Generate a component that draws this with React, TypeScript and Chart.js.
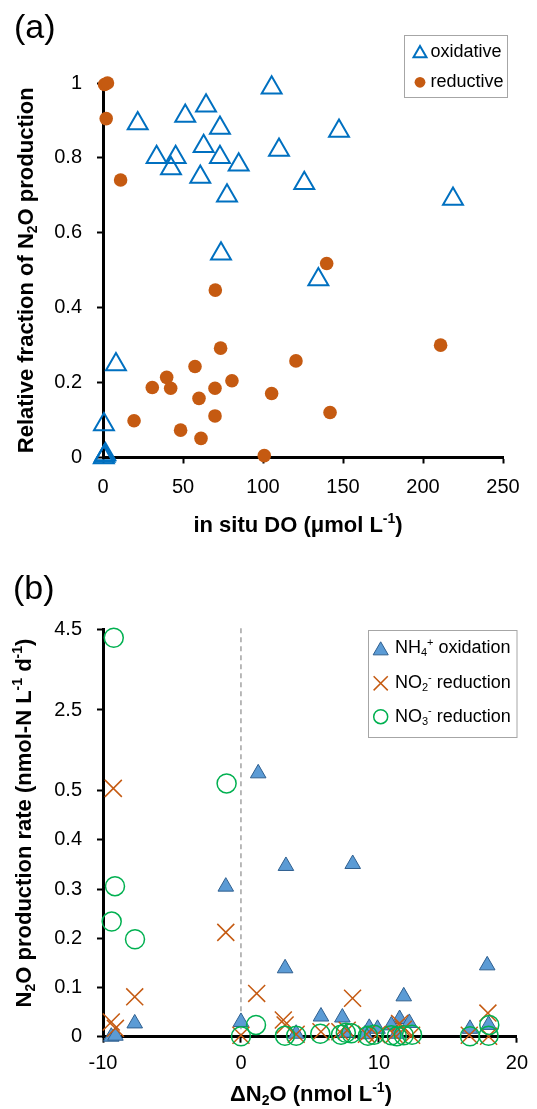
import React, { useEffect, useRef } from 'react';
import { Chart, registerables } from 'chart.js';

Chart.register(...registerables);

const FONT = '"Liberation Sans", Arial, Helvetica, sans-serif';

// ---------- Panel (a) data ----------
const A_X_TICKS = [0, 50, 100, 150, 200, 250];
const A_Y_TICKS = [0, 0.2, 0.4, 0.6, 0.8, 1];
const A_Y_TICK_LABELS = ['0', '0.2', '0.4', '0.6', '0.8', '1'];

const OXIDATIVE_DO = [21.7, 33.5, 45.4, 42.5, 51.4, 64.4, 73.1, 62.9, 73.1, 60.8, 84.8, 77.5, 73.75, 105.4, 147.5, 110, 125.8, 218.75, 134.6, 8.1, 0.6, 0.5, 1.0, 1.5];
const OXIDATIVE_FRACTION = [0.892, 0.802, 0.802, 0.772, 0.912, 0.939, 0.88, 0.831, 0.802, 0.749, 0.782, 0.699, 0.544, 0.987, 0.872, 0.821, 0.732, 0.69, 0.475, 0.248, 0.088, 0, 0.004, 0.008];

const REDUCTIVE_DO = [1.0, 2.8, 2.0, 11, 70.2, 139.8, 211, 73.5, 120.6, 57.5, 39.8, 30.8, 42.3, 80.6, 70, 105.4, 60, 141.9, 70, 19.4, 48.5, 61.25, 100.8];
const REDUCTIVE_FRACTION = [0.996, 1.0, 0.905, 0.741, 0.447, 0.518, 0.3, 0.292, 0.258, 0.243, 0.214, 0.187, 0.185, 0.205, 0.185, 0.171, 0.158, 0.12, 0.111, 0.098, 0.073, 0.051, 0.005];

// ---------- Panel (b) data ----------
const B_X_TICKS = [-10, 0, 10, 20];
const B_Y_TICKS = [0, 0.1, 0.2, 0.3, 0.4, 0.5, 2.5, 4.5];
const B_Y_TICK_LABELS = ['0', '0.1', '0.2', '0.3', '0.4', '0.5', '2.5', '4.5'];

const NH4_DN2O = [-9.4, -9.1, -7.7, -1.1, 0.0, 1.25, 3.26, 8.1, 3.2, 17.85, 11.8, 5.8, 7.35, 11.5, 12.2, 17.95, 16.6, 4.0, 9.3, 9.9, 10.9, 7.6, 11.3, 9.0];
const NH4_RATE = [0, 0.002, 0.027, 0.305, 0.03, 0.93, 0.347, 0.351, 0.139, 0.145, 0.082, 0.041, 0.039, 0.036, 0.028, 0.024, 0.016, 0.006, 0.018, 0.016, 0.023, 0.008, 0.006, 0.005];

const NO2_DN2O = [-9.25, -9.4, -9.1, -7.7, -1.1, 1.14, 0.0, 3.07, 3.2, 8.09, 17.9, 4.0, 5.8, 7.17, 7.7, 9.1, 9.85, 11.5, 11.77, 11.1, 12.37, 16.55, 17.95];
const NO2_RATE = [0.557, 0.03, 0.017, 0.081, 0.212, 0.088, 0.003, 0.034, 0.024, 0.078, 0.048, 0.005, 0.01, 0.01, 0.013, 0.005, 0.004, 0.027, 0.015, 0.005, 0.003, 0.003, 0.001];

const NO3_DN2O = [-9.22, -1.04, -9.13, -9.37, -7.68, 1.09, 0.0, 3.19, 4.0, 5.75, 7.25, 7.6, 8.0, 9.2, 9.65, 10.9, 11.3, 11.8, 12.4, 16.6, 18.0, 17.95];
const NO3_RATE = [4.29, 0.68, 0.306, 0.234, 0.198, 0.024, 0.001, 0.002, 0.002, 0.006, 0.004, 0.008, 0.007, 0.002, 0.004, 0.003, 0.001, 0.003, 0.004, 0.001, 0.024, 0.002];

// broken y axis of panel (b): linear up to 0.5, compressed above
const Y_BREAK = 0.5;
const Y_COMPRESS = 0.082;
function breakY(v: number): number {
  return v <= Y_BREAK ? v : Y_BREAK + (v - Y_BREAK) * Y_COMPRESS;
}

type Seg = { t: string; s?: 'sub' | 'sup' };

function drawRich(
  ctx: CanvasRenderingContext2D,
  segs: Seg[],
  x: number,
  y: number,
  size: number,
  bold: boolean,
  align: 'left' | 'center',
  rotate = 0
) {
  ctx.save();
  ctx.translate(x, y);
  if (rotate) ctx.rotate(rotate);
  const base = `${bold ? 'bold ' : ''}${size}px ${FONT}`;
  const small = `${bold ? 'bold ' : ''}${Math.round(size * 0.62)}px ${FONT}`;
  let total = 0;
  const widths = segs.map((sg) => {
    ctx.font = sg.s ? small : base;
    const w = ctx.measureText(sg.t).width;
    total += w;
    return w;
  });
  let cx = align === 'center' ? -total / 2 : 0;
  ctx.textBaseline = 'middle';
  ctx.textAlign = 'left';
  ctx.fillStyle = '#000';
  segs.forEach((sg, i) => {
    ctx.font = sg.s ? small : base;
    const dy = sg.s === 'sub' ? size * 0.28 : sg.s === 'sup' ? -size * 0.3 : 0;
    ctx.fillText(sg.t, cx, dy);
    cx += widths[i];
  });
  ctx.restore();
}

function drawMarker(
  ctx: CanvasRenderingContext2D,
  style: string,
  x: number,
  y: number,
  r: number,
  fill: string | null,
  stroke: string | null,
  lw: number
) {
  ctx.save();
  ctx.beginPath();
  if (style === 'triangle') {
    for (let k = 0; k < 3; k++) {
      const a = (k * 2 * Math.PI) / 3;
      const px = x + Math.sin(a) * r;
      const py = y - Math.cos(a) * r;
      if (k) ctx.lineTo(px, py);
      else ctx.moveTo(px, py);
    }
    ctx.closePath();
  } else if (style === 'circle') {
    ctx.arc(x, y, r, 0, Math.PI * 2);
  } else if (style === 'crossRot') {
    const d = r * Math.SQRT1_2;
    ctx.moveTo(x - d, y - d);
    ctx.lineTo(x + d, y + d);
    ctx.moveTo(x + d, y - d);
    ctx.lineTo(x - d, y + d);
  }
  if (fill) {
    ctx.fillStyle = fill;
    ctx.fill();
  }
  if (stroke) {
    ctx.strokeStyle = stroke;
    ctx.lineWidth = lw;
    ctx.stroke();
  }
  ctx.restore();
}

function axisCommon(tickValues: number[], labels: string[] | null, fontSize: number, padding: number) {
  return {
    type: 'linear' as const,
    afterBuildTicks: (s: any) => {
      s.ticks = tickValues.map((v) => ({ value: v }));
    },
    ticks: {
      font: { family: FONT, size: fontSize },
      color: '#000',
      padding,
      maxRotation: 0,
      autoSkip: false,
      callback: (v: any, i: number) => (labels ? labels[i] : String(v)),
    },
    grid: {
      display: true,
      drawOnChartArea: false,
      drawTicks: true,
      tickLength: 6,
      tickWidth: 2,
      tickColor: '#000',
    },
    border: { display: true, color: '#000', width: 3 },
  };
}

export default function App() {
  const refA = useRef<HTMLCanvasElement>(null);
  const refB = useRef<HTMLCanvasElement>(null);

  useEffect(() => {
    const blue = '#0070C0';
    const brown = '#C55A11';

    const panelAPlugin = {
      id: 'panelA',
      afterDraw(chart: any) {
        const ctx = chart.ctx as CanvasRenderingContext2D;
        const ca = chart.chartArea;
        // panel label
        ctx.save();
        ctx.font = `34px ${FONT}`;
        ctx.fillStyle = '#000';
        ctx.textBaseline = 'middle';
        ctx.fillText('(a)', 14, 29);
        ctx.restore();
        // axis titles
        drawRich(ctx, [{ t: 'Relative fraction of N' }, { t: '2', s: 'sub' }, { t: 'O production' }], 27, (ca.top + ca.bottom) / 2, 22, true, 'center', -Math.PI / 2);
        drawRich(ctx, [{ t: 'in situ DO (μmol L' }, { t: '-1', s: 'sup' }, { t: ')' }], 298, 526, 22, true, 'center');
        // legend
        ctx.save();
        ctx.fillStyle = '#fff';
        ctx.fillRect(404.5, 35.5, 103, 62);
        ctx.strokeStyle = '#A6A6A6';
        ctx.lineWidth = 1;
        ctx.strokeRect(404.5, 35.5, 103, 62);
        ctx.restore();
        drawMarker(ctx, 'triangle', 420, 53.5, 7.5, null, blue, 2);
        drawRich(ctx, [{ t: 'oxidative' }], 430.5, 52, 18, false, 'left');
        drawMarker(ctx, 'circle', 420, 82.3, 5.4, brown, null, 0);
        drawRich(ctx, [{ t: 'reductive' }], 430.5, 82.3, 18, false, 'left');
      },
    };

    const xA = { ...axisCommon(A_X_TICKS, null, 20, 12), min: 0, max: 250, afterFit: (s: any) => { s.height = 40; } };
    const yA = { ...axisCommon(A_Y_TICKS, A_Y_TICK_LABELS, 20, 15), min: 0, max: 1, afterFit: (s: any) => { s.width = 60; } };

    const chartA = new Chart(refA.current as HTMLCanvasElement, {
      type: 'scatter',
      data: {
        datasets: [
          {
            label: 'oxidative',
            data: OXIDATIVE_DO.map((x, i) => ({ x, y: OXIDATIVE_FRACTION[i] })),
            pointStyle: 'triangle',
            pointRadius: 11.5,
            pointBorderWidth: 2,
            pointBorderColor: blue,
            pointBackgroundColor: 'rgba(255,255,255,0)',
            clip: false,
            order: 1,
          } as any,
          {
            label: 'reductive',
            data: REDUCTIVE_DO.map((x, i) => ({ x, y: REDUCTIVE_FRACTION[i] })),
            pointStyle: 'circle',
            pointRadius: 6.8,
            pointBorderWidth: 0,
            pointBorderColor: brown,
            pointBackgroundColor: brown,
            clip: false,
            order: 0,
          } as any,
        ],
      },
      options: {
        responsive: false,
        animation: false,
        devicePixelRatio: 1,
        events: [],
        layout: { padding: { left: 43, right: 34, top: 83, bottom: 52.5 } },
        plugins: { legend: { display: false }, tooltip: { enabled: false } },
        scales: { x: xA as any, y: yA as any },
      },
      plugins: [panelAPlugin],
    });

    // ---------- Panel (b) ----------
    const nhFill = '#5B9BD5';
    const nhBorder = '#2F5F8F';
    const orange = '#C55A11';
    const green = '#00B050';

    const panelBPlugin = {
      id: 'panelB',
      beforeDatasetsDraw(chart: any) {
        const ctx = chart.ctx as CanvasRenderingContext2D;
        const ca = chart.chartArea;
        const x0 = chart.scales.x.getPixelForValue(0);
        ctx.save();
        ctx.strokeStyle = '#8C8C8C';
        ctx.lineWidth = 1.2;
        ctx.setLineDash([5, 4]);
        ctx.beginPath();
        ctx.moveTo(x0, ca.top - 1);
        ctx.lineTo(x0, ca.bottom);
        ctx.stroke();
        ctx.restore();
      },
      afterDraw(chart: any) {
        const ctx = chart.ctx as CanvasRenderingContext2D;
        ctx.save();
        ctx.font = `34px ${FONT}`;
        ctx.fillStyle = '#000';
        ctx.textBaseline = 'middle';
        ctx.fillText('(b)', 13, 40);
        ctx.restore();
        drawRich(
          ctx,
          [{ t: 'N' }, { t: '2', s: 'sub' }, { t: 'O production rate (nmol-N L' }, { t: '-1', s: 'sup' }, { t: ' d' }, { t: '-1', s: 'sup' }, { t: ')' }],
          25,
          273,
          22,
          true,
          'center',
          -Math.PI / 2
        );
        drawRich(ctx, [{ t: 'ΔN' }, { t: '2', s: 'sub' }, { t: 'O (nmol L' }, { t: '-1', s: 'sup' }, { t: ')' }], 311, 545, 22, true, 'center');
        // legend
        ctx.save();
        ctx.fillStyle = '#fff';
        ctx.fillRect(368.5, 80.5, 148.5, 107);
        ctx.strokeStyle = '#A6A6A6';
        ctx.lineWidth = 1;
        ctx.strokeRect(368.5, 80.5, 148.5, 107);
        ctx.restore();
        drawMarker(ctx, 'triangle', 380.7, 100.5, 8.7, nhFill, nhBorder, 1);
        drawRich(ctx, [{ t: 'NH' }, { t: '4', s: 'sub' }, { t: '+', s: 'sup' }, { t: ' oxidation' }], 395, 98, 18, false, 'left');
        drawMarker(ctx, 'crossRot', 380.7, 133.3, 10, null, orange, 1.5);
        drawRich(ctx, [{ t: 'NO' }, { t: '2', s: 'sub' }, { t: '-', s: 'sup' }, { t: ' reduction' }], 395, 133.3, 18, false, 'left');
        drawMarker(ctx, 'circle', 380.7, 166.7, 7, null, green, 1.5);
        drawRich(ctx, [{ t: 'NO' }, { t: '3', s: 'sub' }, { t: '-', s: 'sup' }, { t: ' reduction' }], 395, 166.7, 18, false, 'left');
      },
    };

    const xB = { ...axisCommon(B_X_TICKS, null, 20, 9), min: -10, max: 20, afterFit: (s: any) => { s.height = 40; } };
    const yB = {
      ...axisCommon(B_Y_TICKS.map(breakY), B_Y_TICK_LABELS, 20, 15),
      min: 0,
      max: breakY(4.5),
      afterFit: (s: any) => { s.width = 60; },
    };

    const chartB = new Chart(refB.current as HTMLCanvasElement, {
      type: 'scatter',
      data: {
        datasets: [
          {
            label: 'NH4+ oxidation',
            data: NH4_DN2O.map((x, i) => ({ x, y: breakY(NH4_RATE[i]) })),
            pointStyle: 'triangle',
            pointRadius: 9,
            pointBorderWidth: 1,
            pointBorderColor: nhBorder,
            pointBackgroundColor: nhFill,
            clip: false,
            order: 2,
          } as any,
          {
            label: 'NO2- reduction',
            data: NO2_DN2O.map((x, i) => ({ x, y: breakY(NO2_RATE[i]) })),
            pointStyle: 'crossRot',
            pointRadius: 12,
            pointBorderWidth: 1.5,
            pointBorderColor: orange,
            pointBackgroundColor: orange,
            clip: false,
            order: 1,
          } as any,
          {
            label: 'NO3- reduction',
            data: NO3_DN2O.map((x, i) => ({ x, y: breakY(NO3_RATE[i]) })),
            pointStyle: 'circle',
            pointRadius: 9.5,
            pointBorderWidth: 1.5,
            pointBorderColor: green,
            pointBackgroundColor: 'rgba(255,255,255,0)',
            clip: false,
            order: 0,
          } as any,
        ],
      },
      options: {
        responsive: false,
        animation: false,
        devicePixelRatio: 1,
        events: [],
        layout: { padding: { left: 43, right: 20, top: 79.3, bottom: 32.3 } },
        plugins: { legend: { display: false }, tooltip: { enabled: false } },
        scales: { x: xB as any, y: yB as any },
      },
      plugins: [panelBPlugin],
    });

    return () => {
      chartA.destroy();
      chartB.destroy();
    };
  }, []);

  return (
    <div style={{ position: 'absolute', left: 0, top: 0, width: 537, height: 1109, background: '#fff' }}>
      <canvas ref={refA} width={537} height={550} style={{ position: 'absolute', left: 0, top: 0, width: 537, height: 550 }} />
      <canvas ref={refB} width={537} height={559} style={{ position: 'absolute', left: 0, top: 550, width: 537, height: 559 }} />
    </div>
  );
}
